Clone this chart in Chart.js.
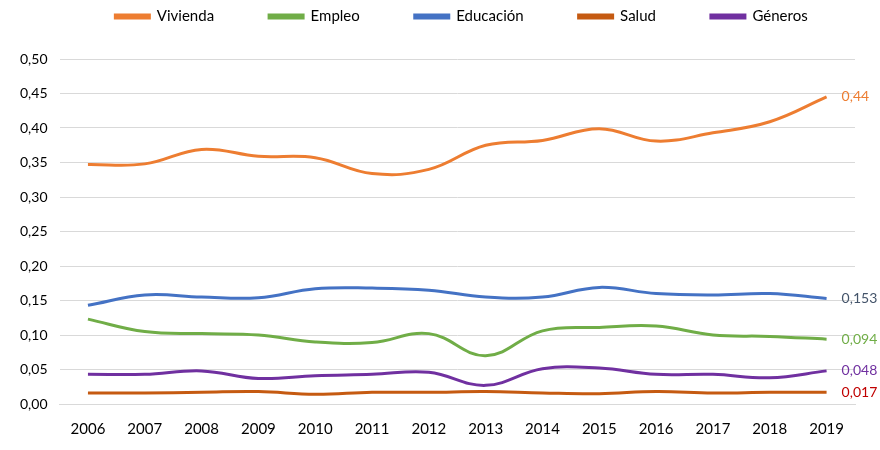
<!DOCTYPE html>
<html>
<head>
<meta charset="utf-8">
<script src="https://cdn.jsdelivr.net/npm/chart.js@4/dist/chart.umd.min.js"></script>
<style>
  html, body { margin: 0; padding: 0; background: #fff; }
  #wrap { width: 880px; height: 450px; }
</style>
</head>
<body>
<div id="wrap"><canvas id="grafico"></canvas></div>
<script>
// Datos
const years = ['2006', '2007', '2008', '2009', '2010', '2011', '2012', '2013', '2014', '2015', '2016', '2017', '2018', '2019'];
const vivienda  = [0.347, 0.348, 0.369, 0.359, 0.357, 0.334, 0.340, 0.375, 0.382, 0.399, 0.381, 0.393, 0.409, 0.445];
const empleo    = [0.123, 0.105, 0.102, 0.100, 0.090, 0.089, 0.102, 0.070, 0.106, 0.111, 0.113, 0.100, 0.098, 0.094];
const educacion = [0.143, 0.158, 0.155, 0.154, 0.167, 0.168, 0.165, 0.155, 0.155, 0.169, 0.160, 0.158, 0.160, 0.153];
const salud     = [0.016, 0.016, 0.017, 0.018, 0.014, 0.017, 0.017, 0.018, 0.016, 0.015, 0.018, 0.016, 0.017, 0.017];
const generos   = [0.043, 0.043, 0.048, 0.037, 0.041, 0.043, 0.046, 0.027, 0.051, 0.052, 0.043, 0.043, 0.038, 0.048];
const endLabels = ['0,44', '0,094', '0,153', '0,017', '0,048'];
const endLabelColors = ['#ED7D31', '#70AD47', '#44546A', '#C00000', '#7030A0'];

const FONT = 'Lato, "Open Sans", sans-serif';

function serie(label, data, color) {
    return {
        label: label,
        data: data,
        borderColor: color,
        backgroundColor: color,
        borderWidth: 3,
        pointRadius: 0,
        tension: 0.4,
        fill: false
    };
}

// Etiqueta del último valor a la derecha de cada línea
const etiquetasFinales = {
    id: 'etiquetasFinales',
    afterDatasetsDraw(chart) {
        const ctx = chart.ctx;
        ctx.save();
        ctx.font = '14px ' + FONT;
        ctx.textBaseline = 'middle';
        ctx.textAlign = 'left';
        chart.data.datasets.forEach((ds, i) => {
            const meta = chart.getDatasetMeta(i);
            const pt = meta.data[meta.data.length - 1];
            ctx.fillStyle = endLabelColors[i];
            ctx.fillText(endLabels[i], pt.x + 15, pt.y);
        });
        ctx.restore();
    }
};

// Espacio fijo entre la leyenda y el área del gráfico, y leyenda algo desplazada a la derecha
const ajusteLeyenda = {
    id: 'ajusteLeyenda',
    beforeInit(chart) {
        const fit = chart.legend.fit;
        chart.legend.fit = function() {
            fit.call(this);
            this.height = 105;
        };
    },
    afterLayout(chart) {
        chart.legend.left += 30;
        chart.legend.right += 30;
    }
};

new Chart(document.getElementById('grafico'), {
    type: 'line',
    data: {
        labels: years,
        datasets: [
            serie('Vivienda', vivienda, '#ED7D31'),
            serie('Empleo', empleo, '#70AD47'),
            serie('Educación', educacion, '#4472C4'),
            serie('Salud', salud, '#C55A11'),
            serie('Géneros', generos, '#7030A0')
        ]
    },
    options: {
        responsive: true,
        maintainAspectRatio: false,
        animation: false,
        layout: { padding: { left: 8, right: 25, top: -46, bottom: 4 } },
        plugins: {
            legend: {
                position: 'top',
                labels: {
                    boxWidth: 34,
                    boxHeight: 3,
                    padding: 55,
                    color: '#000',
                    font: { family: FONT, size: 15 }
                }
            },
            tooltip: { enabled: false }
        },
        scales: {
            x: {
                offset: true,
                grid: { display: false },
                border: { display: true, color: '#D9D9D9' },
                ticks: { color: '#000', font: { family: FONT, size: 15 }, padding: 8 }
            },
            y: {
                min: 0,
                max: 0.5,
                grid: { color: '#D9D9D9', drawTicks: false },
                border: { display: false },
                ticks: {
                    stepSize: 0.05,
                    padding: 12,
                    color: '#000',
                    font: { family: FONT, size: 14 },
                    callback: v => v.toFixed(2).replace('.', ',')
                }
            }
        }
    },
    plugins: [etiquetasFinales, ajusteLeyenda]
});
</script>
</body>
</html>
